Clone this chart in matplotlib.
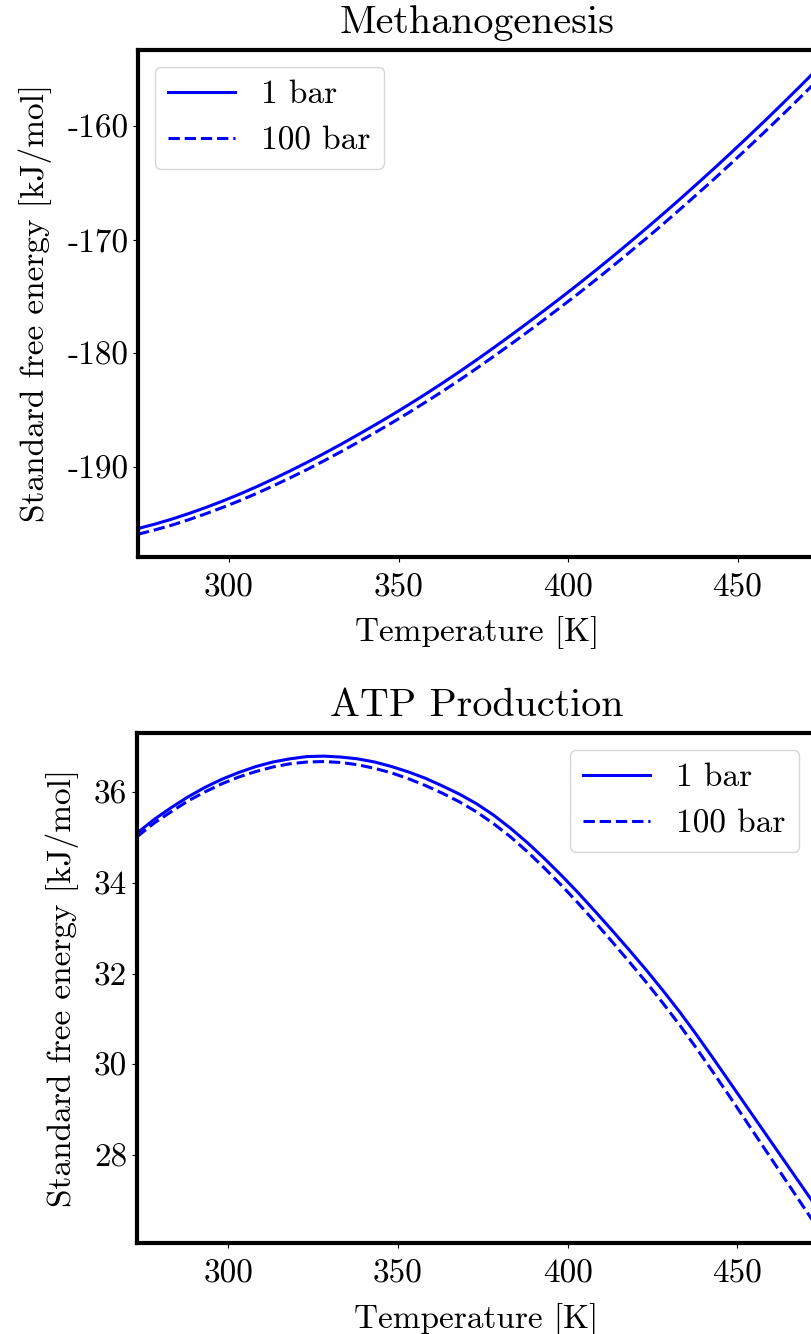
import matplotlib
matplotlib.use("Agg")
import matplotlib.pyplot as plt

plt.rcParams.update({
    "font.family": ["cmr10", "DejaVu Serif"],
    "font.size": 24,
    "axes.unicode_minus": False,
    "axes.linewidth": 3,
    "xtick.major.pad": 8.5,
    "axes.titlepad": 12,
    "mathtext.fontset": "cm",
})

# temperature grid [K]
temps = [273.15, 278.15, 283.15, 288.15, 293.15, 298.15, 303.15, 308.15,
         313.15, 318.15, 323.15, 328.15, 333.15, 338.15, 343.15, 348.15,
         353.15, 358.15, 363.15, 368.15, 373.15, 378.15, 383.15, 388.15,
         393.15, 398.15, 403.15, 408.15, 413.15, 418.15, 423.15, 428.15,
         433.15, 438.15, 443.15, 448.15, 453.15, 458.15, 463.15, 468.15,
         473.15]

# methanogenesis, standard free energy [kJ/mol]
meth_1bar = [-195.40, -195.01, -194.57, -194.08, -193.55, -192.98, -192.37,
             -191.72, -191.03, -190.31, -189.56, -188.78, -187.97, -187.13,
             -186.27, -185.39, -184.48, -183.54, -182.57, -181.57, -180.54,
             -179.48, -178.40, -177.30, -176.18, -175.04, -173.88, -172.69,
             -171.48, -170.24, -168.98, -167.70, -166.39, -165.06, -163.71,
             -162.33, -160.93, -159.51, -158.06, -156.59, -155.10]
meth_100bar = [-195.90, -195.52, -195.10, -194.62, -194.10, -193.54, -192.95,
               -192.31, -191.63, -190.92, -190.19, -189.42, -188.62, -187.79,
               -186.95, -186.08, -185.18, -184.25, -183.30, -182.31, -181.29,
               -180.24, -179.18, -178.09, -176.98, -175.85, -174.71, -173.53,
               -172.33, -171.10, -169.86, -168.59, -167.29, -165.97, -164.64,
               -163.27, -161.88, -160.47, -159.04, -157.58, -156.10]

# ATP production, standard free energy [kJ/mol]
atp_1bar = [35.10, 35.40, 35.66, 35.90, 36.11, 36.29, 36.44, 36.57, 36.67,
            36.74, 36.79, 36.80, 36.78, 36.74, 36.67, 36.57, 36.45, 36.31,
            36.14, 35.96, 35.75, 35.50, 35.21, 34.89, 34.54, 34.17, 33.78,
            33.37, 32.95, 32.52, 32.08, 31.62, 31.14, 30.63, 30.10, 29.56,
            29.02, 28.48, 27.94, 27.40, 26.86]
atp_100bar = [35.02, 35.32, 35.57, 35.81, 36.01, 36.19, 36.34, 36.46, 36.56,
              36.63, 36.67, 36.68, 36.66, 36.61, 36.53, 36.43, 36.30, 36.15,
              35.98, 35.79, 35.57, 35.31, 35.02, 34.69, 34.33, 33.95, 33.55,
              33.13, 32.70, 32.26, 31.81, 31.34, 30.85, 30.33, 29.79, 29.24,
              28.68, 28.12, 27.56, 27.00, 26.44]

xticks = [300, 350, 400, 450]

fig = plt.figure(figsize=(8.11, 13.34), dpi=100)
ax1 = fig.add_axes([0.1702, 0.5825, 0.836, 0.3801])
ax2 = fig.add_axes([0.1690, 0.0682, 0.837, 0.3823])

panels = [
    (ax1, "Methanogenesis", meth_1bar, meth_100bar, (-197.9, -153.3), "upper left"),
    (ax2, "ATP Production", atp_1bar, atp_100bar, (26.05, 37.31), "upper right"),
]

for ax, title, y1, y100, ylim, loc in panels:
    ax.plot(temps, y1, color="blue", lw=2.2, label="1 bar")
    ax.plot(temps, y100, color="blue", lw=2.2, ls="--", label="100 bar")
    ax.set_xlim(273.15, 473.15)
    ax.set_ylim(*ylim)
    ax.set_xticks(xticks)
    ax.set_title(title)
    ax.set_xlabel("Temperature [K]", labelpad=10)
    ax.set_ylabel("Standard free energy [kJ/mol]", labelpad=11)
    ax.legend(loc=loc)

fig.savefig("out.png", dpi=100)
